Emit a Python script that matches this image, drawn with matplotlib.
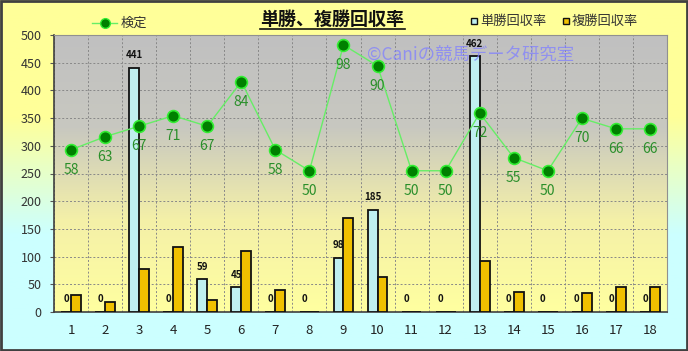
import numpy as np
import matplotlib
matplotlib.use("Agg")
import matplotlib.pyplot as plt
from matplotlib.colors import LinearSegmentedColormap
from matplotlib.lines import Line2D
from matplotlib.patches import Rectangle

plt.rcParams["font.family"] = ["Noto Sans CJK JP", "DejaVu Sans"]

horses = list(range(1, 19))
tansho = [0, 0, 441, 0, 59, 45, 0, 0, 98, 185, 0, 0, 462, 0, 0, 0, 0, 0]
fukusho = [30, 18, 78, 118, 22, 111, 40, 0, 169, 63, 0, 0, 92, 37, 0, 34, 45, 45]
kentei = [58, 63, 67, 71, 67, 84, 58, 50, 98, 90, 50, 50, 72, 55, 50, 70, 66, 66]

fig = plt.figure(figsize=(6.88, 3.51), dpi=100)

# figure background: yellow at the top fading to light cyan
bg = fig.add_axes([0, 0, 1, 1], zorder=-10)
bg_cmap = LinearSegmentedColormap.from_list("bg", ["#ccffff", "#ccffff", "#ffff99", "#ffff99"])
bg.imshow(np.linspace(0, 1, 256).reshape(-1, 1), cmap=bg_cmap, aspect="auto",
          extent=[0, 1, 0, 1], origin="lower")
bg.set_axis_off()
fig.patches.append(Rectangle((0.0015, 0.003), 0.997, 0.994, transform=fig.transFigure,
                             fill=False, edgecolor="#404040", linewidth=2))

ax = fig.add_axes([54 / 688, 39 / 351, 613 / 688, 277 / 351])
ax.set_xlim(0.5, 18.5)
ax.set_ylim(0, 500)
plot_cmap = LinearSegmentedColormap.from_list("plot", ["#ffffa0", "#f4f0a8", "#c8c8c0", "#c0c0c0"])
ax.imshow(np.linspace(0, 1, 256).reshape(-1, 1), cmap=plot_cmap, aspect="auto",
          extent=[0.5, 18.5, 0, 500], origin="lower", zorder=0)

ax.set_yticks(range(0, 501, 50))
ax.set_xticks(horses)
ax.set_xticks(np.arange(0.5, 18.6, 1), minor=True)
ax.grid(True, which="minor", axis="x", color="#888888", linestyle=(0, (2, 2)), linewidth=0.7, zorder=1)
ax.grid(True, which="major", axis="y", color="#888888", linestyle=(0, (2, 2)), linewidth=0.7, zorder=1)
ax.tick_params(axis="x", which="both", length=0, pad=9, labelsize=9.5, labelcolor="#222222")
ax.tick_params(axis="y", length=3, pad=6, labelsize=9, labelcolor="#333333", color="#555555")
for side in ["left", "bottom"]:
    ax.spines[side].set_color("#404040")
    ax.spines[side].set_linewidth(1.2)
for side in ["top", "right"]:
    ax.spines[side].set_color("#909090")

w = 0.29
x = np.array(horses)
ax.bar(x - w, tansho, width=w, align="edge", color="#bfeff0", edgecolor="#111111",
       linewidth=1.3, zorder=3)
ax.bar(x, fukusho, width=w, align="edge", color="#f0c000", edgecolor="#111111",
       linewidth=1.3, zorder=3)
for xi, v in zip(x, tansho):
    ax.annotate(str(v), (xi - w / 2, v), xytext=(0, 9), textcoords="offset points",
                ha="center", va="center", fontsize=7, fontweight="bold", color="#111111",
                zorder=6)

ax2 = ax.twinx()
ax2.set_ylim(-3.9, 101.8)
ax2.set_axis_off()
ax2.plot(x, kentei, color="#66ee66", linewidth=1, marker="o", markersize=8.5,
         markerfacecolor="#008000", markeredgecolor="#33ee33", markeredgewidth=1.2, zorder=5)
for xi, v in zip(x, kentei):
    ax2.annotate(str(v), (xi, v), xytext=(0, -14.5), textcoords="offset points",
                 ha="center", va="center", fontsize=10, color="#2a8f2a", zorder=6)

# title with underline
fig.text(332 / 688, 1 - 19 / 351, "単勝、複勝回収率", ha="center", va="center",
         fontsize=13, fontweight="bold", color="#111111")
fig.add_artist(Line2D([260 / 688, 405 / 688], [1 - 29 / 351, 1 - 29 / 351],
                      color="#111111", linewidth=1.2))

# watermark
fig.text(471 / 688, 1 - 55 / 351, "©Caniの競馬データ研究室", ha="center", va="center",
         fontsize=12.5, color="#8080ff", alpha=0.75, zorder=20)

# legends drawn by hand
fig.add_artist(Line2D([92 / 688, 117 / 688], [1 - 23 / 351] * 2, color="#66ee66", linewidth=1,
                      marker="o", markevery=[], zorder=20))
fig.add_artist(Line2D([104.5 / 688], [1 - 23 / 351], color="#66ee66", marker="o", markersize=7,
                      markerfacecolor="#008000", markeredgecolor="#33ee33", zorder=20))
fig.text(121 / 688, 1 - 23 / 351, "検定", ha="left", va="center", fontsize=9.5, color="#333333")

for lx, color, label in [(474, "#bfeff0", "単勝回収率"), (566, "#f0c000", "複勝回収率")]:
    fig.patches.append(Rectangle(((lx - 3) / 688, 1 - 24 / 351), 6 / 688, 6 / 351,
                                 transform=fig.transFigure, facecolor=color,
                                 edgecolor="#111111", linewidth=1))
    fig.text((lx + 6) / 688, 1 - 21 / 351, label, ha="left", va="center", fontsize=9.5,
             color="#333333")

fig.savefig("out.png", dpi=100)
